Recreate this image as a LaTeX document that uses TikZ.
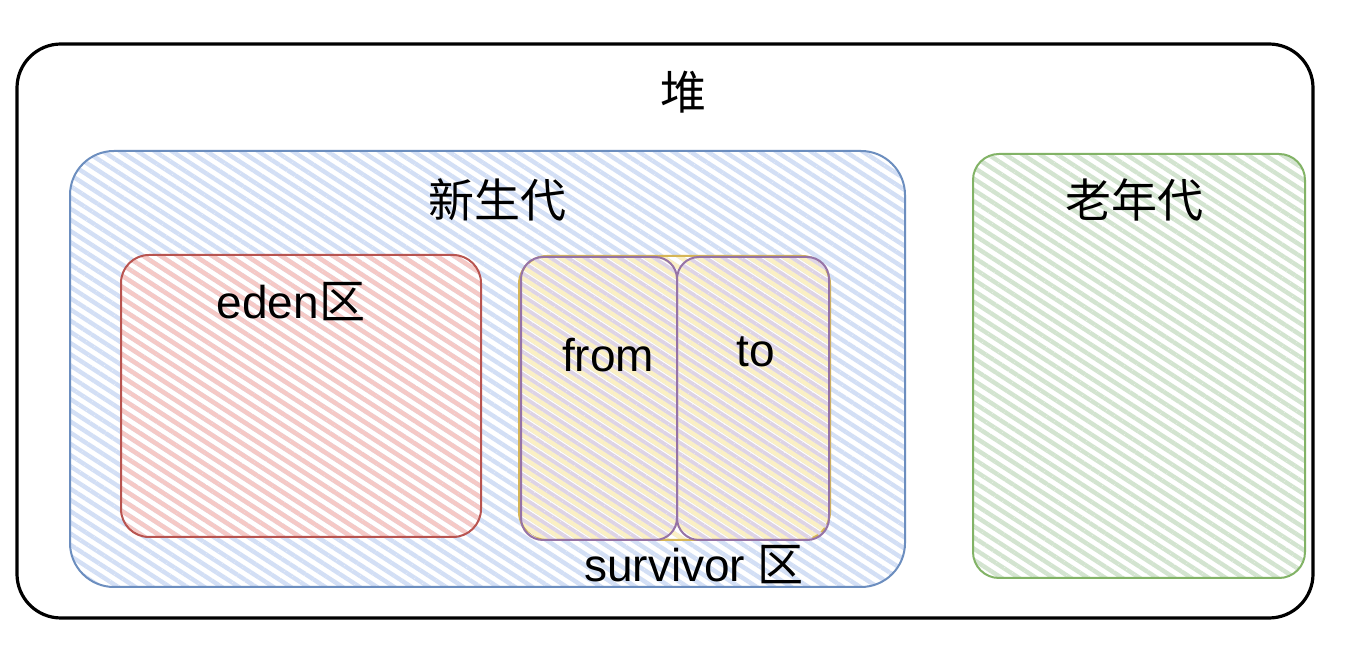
\documentclass[tikz,border=0pt]{standalone}
\usepackage{fontspec}
\setmainfont{Liberation Sans}
\newfontfamily\cjk{Noto Sans CJK SC}
\usetikzlibrary{patterns.meta}
\definecolor{bluestroke}{HTML}{6C8EBF}
\definecolor{bluehatch}{HTML}{D3DFF5}
\definecolor{redstroke}{HTML}{B85450}
\definecolor{redhatch}{HTML}{F5C9C6}
\definecolor{greenstroke}{HTML}{82B366}
\definecolor{greenhatch}{HTML}{D3E4D0}
\definecolor{yellowstroke}{HTML}{D6B656}
\definecolor{yellowhatch}{HTML}{FBF0C4}
\definecolor{purplestroke}{HTML}{9673A6}
\definecolor{purplehatch}{HTML}{DDD3E6}
\tikzset{
  area/.style={draw, rounded corners=#1, inner sep=0pt, outer sep=0pt},
  hatched/.style={pattern={Lines[angle=-33,distance=4.7pt,line width=2.2pt]}, pattern color=#1},
  hatchedshift/.style={pattern={Lines[angle=-33,distance=4.7pt,line width=1.8pt,yshift=2.4pt]}, pattern color=#1},
  lbl/.style={font=\fontsize{23}{27}\selectfont, inner sep=0pt, text=black},
}
\begin{document}
\begin{tikzpicture}[x=0.5pt,y=-0.5pt]
\useasboundingbox[fill=white] (0,0) rectangle (1370,656);
% heap
\node[area=22pt, line width=1.6pt, draw=black, minimum width=648pt, minimum height=287pt] (heap) at (665,331) {};
\node[lbl] (heaplbl) at (683,92) {\cjk 堆};
% young generation
\node[area=22pt, line width=1pt, draw=bluestroke, hatched=bluehatch, minimum width=417.5pt, minimum height=218pt] (young) at (487.5,369) {};
\node[lbl] (younglbl) at (497,200) {\cjk 新生代};
% eden
\node[area=14pt, line width=1pt, draw=redstroke, hatched=redhatch, minimum width=180pt, minimum height=141pt] (eden) at (301,396) {};
\node[lbl] (edenlbl) at (291,302) {eden{\cjk 区}};
% survivor
\node[area=14pt, line width=1pt, draw=yellowstroke, hatched=yellowhatch, minimum width=155.5pt, minimum height=142pt] (surv) at (674.5,398) {};
\node[area=11pt, line width=1pt, draw=purplestroke, hatchedshift=purplehatch, minimum width=78pt, minimum height=141.5pt] (from) at (599,398.5) {};
\node[area=11pt, line width=1pt, draw=purplestroke, hatchedshift=purplehatch, minimum width=76pt, minimum height=141.5pt] (to) at (753,398.5) {};
\node[lbl] (fromlbl) at (608,355) {from};
\node[lbl] (tolbl) at (756,352) {to};
\node[lbl] (survlbl) at (694,565) {survivor {\cjk 区}};
% old generation
\node[area=13pt, line width=1pt, draw=greenstroke, hatched=greenhatch, minimum width=166pt, minimum height=212pt] (old) at (1139,366) {};
\node[lbl] (oldlbl) at (1134,200) {\cjk 老年代};
\end{tikzpicture}
\end{document}
